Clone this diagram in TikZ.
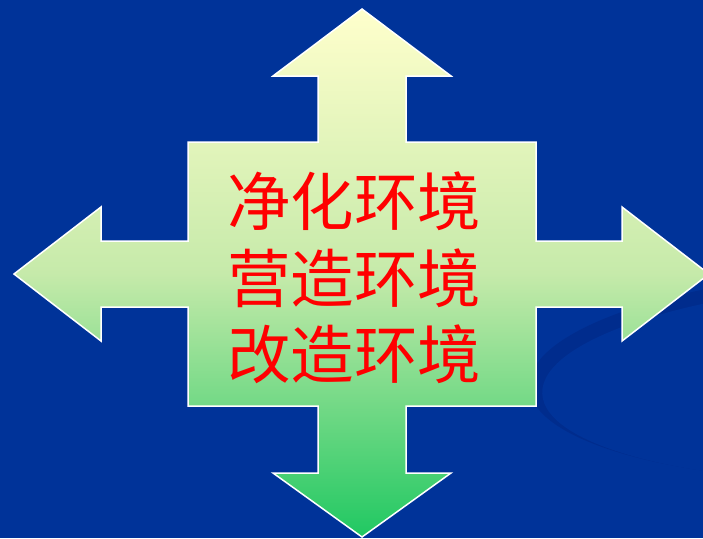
\documentclass[tikz,border=0pt]{standalone}
\usepackage{fontspec}
\newfontfamily\cjk{Noto Sans CJK SC}
\definecolor{bgblue}{RGB}{0,51,153}
\definecolor{bgdark}{RGB}{0,44,141}
\definecolor{txtred}{RGB}{255,0,0}
\definecolor{gtop}{RGB}{255,255,204}
\definecolor{gmid}{RGB}{198,234,170}
\definecolor{gbot}{RGB}{32,200,98}
\tikzset{
  crossshape/.style={draw=white, line width=1.5pt, line join=miter,
    top color=gtop, bottom color=gbot, middle color=gmid},
  bigtext/.style={text=txtred, font=\cjk\fontsize{63.5}{63.5}\selectfont, inner sep=0pt, anchor=center}
}
\begin{document}
\begin{tikzpicture}[x=1pt,y=-1pt]
\useasboundingbox (0,0) rectangle (703,538);
\clip (0,0) rectangle (703,538);
\fill[bgblue] (0,0) rectangle (703,538);
% subtle background swoosh
\fill[bgdark, rotate around={2:(893,374)}] (893,374) ellipse [x radius=364, y radius=106];
\fill[bgblue, rotate around={2:(900,381)}] (900,381) ellipse [x radius=358, y radius=100];
% four-way arrow
\path[crossshape] (362,9) -- (451,76) -- (406,76) -- (406,142) -- (536,142) -- (536,241)
  -- (622,241) -- (622,207) -- (709,274) -- (622,341) -- (622,307) -- (536,307)
  -- (536,406) -- (406,406) -- (406,473) -- (451,473) -- (362,537) -- (273,473)
  -- (318,473) -- (318,406) -- (188,406) -- (188,307) -- (101,307) -- (101,341)
  -- (14,274) -- (101,207) -- (101,241) -- (188,241) -- (188,142) -- (318,142)
  -- (318,76) -- (273,76) -- cycle;
\node[bigtext] (l1) at (354,201) {净化环境};
\node[bigtext] (l2) at (354,278) {营造环境};
\node[bigtext] (l3) at (354,354) {改造环境};
\end{tikzpicture}
\end{document}
